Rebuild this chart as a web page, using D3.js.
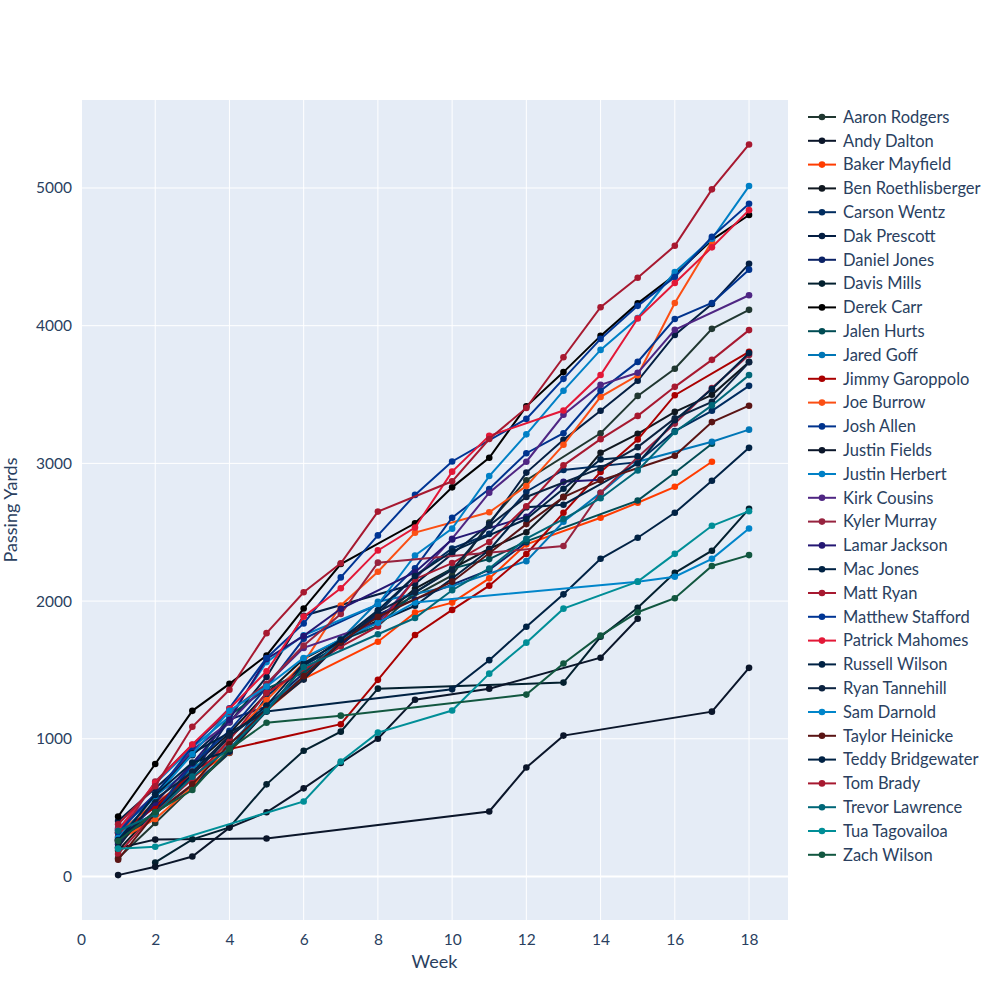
<!DOCTYPE html>
<html>
<head>
<meta charset="utf-8">
<script src="https://cdn.jsdelivr.net/npm/d3@7"></script>
<style>
  body { margin: 0; background: #fff; }
  text { font-family: Lato, "Open Sans", sans-serif; fill: #2a3f5f; }
</style>
</head>
<body>
<div id="chart"></div>
<script>
// Cumulative passing yards by week, 2021 season (null = no game that week)

var weeks = [1, 2, 3, 4, 5, 6, 7, 8, 9, 10, 11, 12, 13, 14, 15, 16, 17, 18];

var aaronRodgers      = [133, 388, 649, 897, 1241, 1436, 1710, 1894, null, 2186, 2571, 2878, null, 3219, 3490, 3687, 3977, 4115];
var andyDalton        = [206, 268, null, null, 276, null, null, null, null, null, 472, 791, 1023, null, null, null, 1197, 1515];
var bakerMayfield     = [321, 534, 720, 900, 1205, 1435, null, 1705, 1916, 1989, 2165, 2412, null, 2605, 2714, 2830, 3012, null];
var benRoethlisberger = [188, 483, 801, 1040, 1330, 1580, null, 1860, 2090, null, 2380, 2500, 2758, 3077, 3215, 3374, 3498, 3737];
var carsonWentz       = [251, 460, 660, 906, 1308, 1531, 1681, 1912, 2184, 2382, 2488, 2794, 2952, null, 3009, 3234, 3382, 3563];
var dakPrescott       = [403, 641, 880, 1118, 1449, 1894, null, null, 2126, 2342, 2558, 2933, 3171, 3382, 3600, 3933, 4158, 4449];
var danielJones       = [267, 516, 738, 1140, 1235, 1477, 1680, 1902, 2012, null, 2226, 2428, null, null, null, null, null, null];
var davisMills        = [null, 102, 270, 357, 669, 913, 1052, 1364, null, null, null, null, 1408, 1741, 1952, 2205, 2366, 2670];
var derekCarr         = [435, 817, 1203, 1399, 1605, 1946, 2269, null, 2565, 2826, 3041, 3414, 3663, 3926, 4162, 4368, 4623, 4804];
var jalenHurts        = [264, 454, 780, 1167, 1365, 1480, 1716, 1819, 2062, 2236, 2305, 2434, null, null, 2730, 2932, 3143, null];
var jaredGoff         = [338, 584, 786, 957, 1231, 1453, 1721, 1995, null, 2109, null, 2290, 2576, 2786, 3012, null, 3157, 3245];
var jimmyGaroppolo    = [314, 503, 760, 925, null, null, 1106, 1428, 1754, 1936, 2112, 2342, 2641, 2937, 3173, 3495, null, 3810];
var joeBurrow         = [261, 418, 652, 1000, 1281, 1552, 1968, 2213, 2497, null, 2645, 2835, 3135, 3483, 3640, 4165, 4611, null];
var joshAllen         = [270, 460, 818, 1058, 1373, 1726, null, 1975, 2239, 2605, 2814, 3074, 3219, 3527, 3737, 4049, 4165, 4407];
var justinFields      = [10, 70, 145, 355, 466, 640, 824, 1001, 1284, null, 1364, null, null, 1589, 1872, null, null, null];
var justinHerbert     = [337, 675, 937, 1159, 1557, 1752, null, 1975, 2331, 2526, 2908, 3211, 3528, 3824, 4056, 4390, 4631, 5014];
var kirkCousins       = [351, 595, 918, 1121, 1396, 1660, null, 1844, 2159, 2453, 2787, 3012, 3353, 3570, 3658, 3970, null, 4221];
var kylerMurray       = [289, 689, 957, 1196, 1400, 1677, 1906, 2279, null, null, null, null, 2400, 2787, 3044, 3289, 3547, 3787];
var lamarJackson      = [235, 535, 822, 1138, 1580, 1747, 1944, null, 2210, 2448, null, 2613, 2866, 2882, null, null, null, null];
var macJones          = [281, 467, 737, 1012, 1241, 1548, 1707, 1847, 1966, 2164, 2371, 2681, 2700, null, 2999, 3313, 3540, 3801];
var mattRyan          = [164, 464, 707, 990, 1334, null, 1670, 1816, 2159, 2276, 2429, 2689, 2986, 3176, 3345, 3556, 3752, 3968];
var matthewStafford   = [321, 599, 942, 1222, 1587, 1838, 2172, 2477, 2771, 3014, null, 3323, 3614, 3904, 4144, 4354, 4645, 4886];
var patrickMahomes    = [337, 680, 958, 1218, 1490, 1887, 2093, 2368, 2534, 2940, 3200, null, 3384, 3642, 4052, 4310, 4569, 4839];
var russellWilson     = [254, 597, 895, 1044, 1198, null, null, null, null, 1359, 1571, 1814, 2049, 2307, 2460, 2641, 2874, 3113];
var ryanTannehill     = [212, 561, 758, 1023, 1214, 1430, 1700, 1922, 2065, 2226, 2549, 2756, null, 2965, 3118, 3327, 3447, 3734];
var samDarnold        = [279, 584, 888, 1203, 1380, 1587, 1722, 1842, 1990, null, null, null, null, null, 2141, 2177, 2307, 2527];
var taylorHeinicke    = [122, 458, 670, 960, 1208, 1455, 1703, 1885, null, 2141, 2347, 2559, 2755, 2877, null, 3055, 3300, 3419];
var teddyBridgewater  = [264, 592, 827, 911, 1199, 1533, 1720, 1933, 2182, 2360, null, 2596, 2816, 3029, 3052, null, null, null];
var tomBrady          = [379, 655, 1087, 1356, 1767, 2064, 2275, 2650, null, 2870, 3177, 3403, 3771, 4134, 4348, 4580, 4990, 5316];
var trevorLawrence    = [332, 450, 725, 929, 1202, 1521, null, 1759, 1877, 2079, 2237, 2453, 2596, 2747, 2948, 3228, 3421, 3641];
var tuaTagovailoa     = [202, 216, null, null, null, 545, 835, 1045, null, 1205, 1473, 1698, 1945, null, 2141, 2343, 2547, 2653];
var zachWilson        = [258, 468, 628, 925, 1117, null, 1168, null, null, null, null, 1321, 1547, 1749, 1919, 2021, 2255, 2334];

var players = ["Aaron Rodgers", "Andy Dalton", "Baker Mayfield", "Ben Roethlisberger", "Carson Wentz",
  "Dak Prescott", "Daniel Jones", "Davis Mills", "Derek Carr", "Jalen Hurts", "Jared Goff",
  "Jimmy Garoppolo", "Joe Burrow", "Josh Allen", "Justin Fields", "Justin Herbert", "Kirk Cousins",
  "Kyler Murray", "Lamar Jackson", "Mac Jones", "Matt Ryan", "Matthew Stafford", "Patrick Mahomes",
  "Russell Wilson", "Ryan Tannehill", "Sam Darnold", "Taylor Heinicke", "Teddy Bridgewater",
  "Tom Brady", "Trevor Lawrence", "Tua Tagovailoa", "Zach Wilson"];

var yards = [aaronRodgers, andyDalton, bakerMayfield, benRoethlisberger, carsonWentz,
  dakPrescott, danielJones, davisMills, derekCarr, jalenHurts, jaredGoff,
  jimmyGaroppolo, joeBurrow, joshAllen, justinFields, justinHerbert, kirkCousins,
  kylerMurray, lamarJackson, macJones, mattRyan, matthewStafford, patrickMahomes,
  russellWilson, ryanTannehill, samDarnold, taylorHeinicke, teddyBridgewater,
  tomBrady, trevorLawrence, tuaTagovailoa, zachWilson];

// team colours
var colors = ["#203731", "#0B162A", "#FF3C00", "#101820", "#002C5F",
  "#041E42", "#0B2265", "#03202F", "#000000", "#004C54", "#0076B6",
  "#AA0000", "#FB4F14", "#00338D", "#0B162A", "#0080C6", "#4F2683",
  "#97233F", "#241773", "#002244", "#A71930", "#003594", "#E31837",
  "#002244", "#0C2340", "#0085CA", "#5A1414", "#002244",
  "#A71930", "#006778", "#008E97", "#125740"];

var xTicks = [0, 2, 4, 6, 8, 10, 12, 14, 16, 18];
var yTicks = [0, 1000, 2000, 3000, 4000, 5000];

var width = 1000, height = 1000;
var margin = {top: 100, right: 212, bottom: 80, left: 81};
var plotWidth = width - margin.left - margin.right;
var plotHeight = height - margin.top - margin.bottom;

var svg = d3.select("#chart").append("svg")
  .attr("width", width)
  .attr("height", height);

var x = d3.scaleLinear().domain([0, 19.05]).range([0, plotWidth]);
var y = d3.scaleLinear().domain([-316, 5639]).range([plotHeight, 0]);

var plot = svg.append("g")
  .attr("transform", "translate(" + margin.left + "," + margin.top + ")");

plot.append("rect")
  .attr("width", plotWidth)
  .attr("height", plotHeight)
  .attr("fill", "#E5ECF6");

// grid
plot.append("g").selectAll("line")
  .data(xTicks)
  .enter().append("line")
  .attr("x1", function(d) { return x(d); })
  .attr("x2", function(d) { return x(d); })
  .attr("y1", 0).attr("y2", plotHeight)
  .attr("stroke", "#fff")
  .attr("stroke-width", function(d) { return d === 0 ? 2 : 1; });

plot.append("g").selectAll("line")
  .data(yTicks)
  .enter().append("line")
  .attr("x1", 0).attr("x2", plotWidth)
  .attr("y1", function(d) { return y(d); })
  .attr("y2", function(d) { return y(d); })
  .attr("stroke", "#fff")
  .attr("stroke-width", function(d) { return d === 0 ? 2 : 1; });

// axes (labels only, like plotly)
var xAxis = plot.append("g")
  .attr("transform", "translate(0," + plotHeight + ")")
  .call(d3.axisBottom(x).tickValues(xTicks).tickSize(0).tickPadding(14));
var yAxis = plot.append("g")
  .call(d3.axisLeft(y).tickValues(yTicks).tickFormat(d3.format("d")).tickSize(0).tickPadding(9));
[xAxis, yAxis].forEach(function(a) {
  a.select(".domain").remove();
  a.selectAll("text").style("font-size", "15.5px").attr("fill", "#2a3f5f")
    .style("font-family", "Lato, 'Open Sans', sans-serif");
});

svg.append("text")
  .attr("x", margin.left + plotWidth / 2)
  .attr("y", 968)
  .attr("text-anchor", "middle")
  .style("font-size", "18px")
  .text("Week");

svg.append("text")
  .attr("transform", "translate(17," + (margin.top + plotHeight / 2) + ") rotate(-90)")
  .attr("text-anchor", "middle")
  .style("font-size", "18px")
  .text("Passing Yards");

// series
var line = d3.line()
  .x(function(d) { return x(d.week); })
  .y(function(d) { return y(d.value); });

var series = players.map(function(name, i) {
  return {
    name: name,
    color: colors[i],
    points: weeks.map(function(w, j) { return {week: w, value: yards[i][j]}; })
      .filter(function(p) { return p.value !== null; })
  };
});

var traces = plot.append("g").selectAll("g")
  .data(series)
  .enter().append("g");

traces.append("path")
  .attr("d", function(d) { return line(d.points); })
  .attr("fill", "none")
  .attr("stroke", function(d) { return d.color; })
  .attr("stroke-width", 2);

traces.selectAll("circle")
  .data(function(d) { return d.points.map(function(p) { p.color = d.color; return p; }); })
  .enter().append("circle")
  .attr("cx", function(d) { return x(d.week); })
  .attr("cy", function(d) { return y(d.value); })
  .attr("r", 3.3)
  .attr("fill", function(d) { return d.color; });

// legend
var legend = svg.append("g").attr("transform", "translate(808,117)");
var items = legend.selectAll("g")
  .data(series)
  .enter().append("g")
  .attr("transform", function(d, i) { return "translate(0," + (i * 23.8) + ")"; });
items.append("line")
  .attr("x1", 0).attr("x2", 28)
  .attr("stroke", function(d) { return d.color; })
  .attr("stroke-width", 2);
items.append("circle")
  .attr("cx", 14).attr("r", 3.3)
  .attr("fill", function(d) { return d.color; });
items.append("text")
  .attr("x", 35)
  .attr("dy", "0.35em")
  .style("font-size", "16.5px")
  .text(function(d) { return d.name; });
</script>
</body>
</html>
